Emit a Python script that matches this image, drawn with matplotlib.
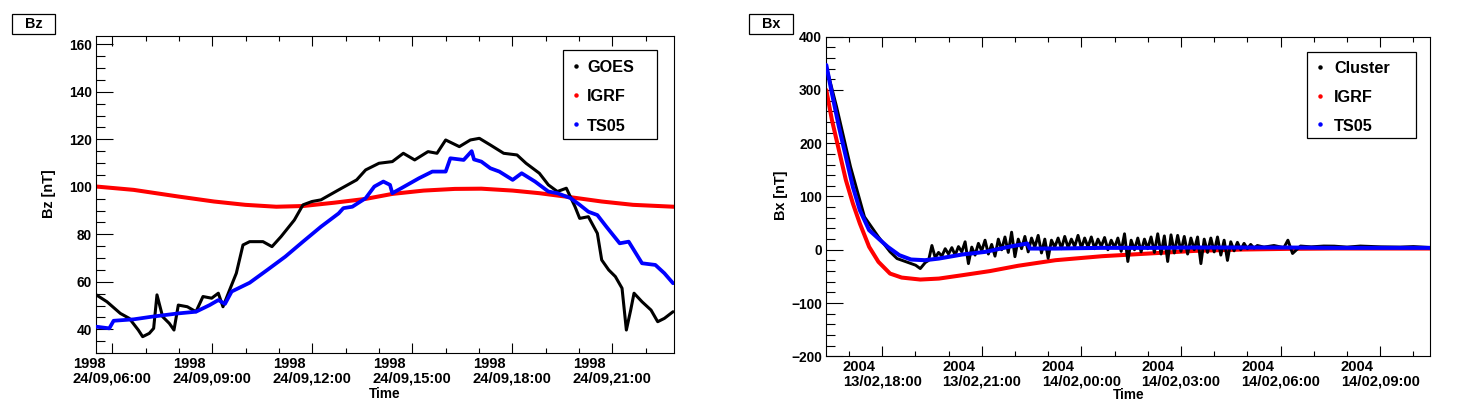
import matplotlib
matplotlib.use('Agg')
import matplotlib.pyplot as plt
from matplotlib.patches import Rectangle
from matplotlib.lines import Line2D
from matplotlib.ticker import MultipleLocator

plt.rcParams['font.family'] = ['Liberation Sans', 'DejaVu Sans']

# ---------------- data: left panel (Bz), time in hours of 24/09/1998 ----------------
bz_goes_t = [5.52, 5.84, 6.24, 6.51, 6.78, 6.91, 7.11, 7.24, 7.34, 7.51, 7.71, 7.85, 7.98,
             8.25, 8.51, 8.72, 8.98, 9.18, 9.32, 9.52, 9.72, 9.92, 10.12, 10.52, 10.79,
             11.06, 11.46, 11.72, 11.99, 12.26, 12.79, 13.33, 13.60, 14.00, 14.40, 14.73,
             15.07, 15.47, 15.74, 16.00, 16.41, 16.74, 17.01, 17.34, 17.74, 18.14, 18.41,
             18.81, 19.08, 19.35, 19.62, 19.88, 20.02, 20.28, 20.55, 20.68, 20.89, 21.09,
             21.29, 21.42, 21.55, 21.65, 21.89, 22.16, 22.36, 22.56, 22.82]
bz_goes_v = [54.5, 51.6, 46.7, 44.6, 39.7, 36.9, 38.3, 40.4, 54.5, 45.3, 42.5, 39.7, 50.2,
             49.5, 47.4, 53.8, 53.1, 55.2, 49.5, 56.6, 63.6, 75.5, 76.9, 76.9, 74.8,
             79.0, 86.0, 92.4, 93.8, 94.5, 98.7, 102.9, 107.1, 109.9, 110.6, 114.1,
             111.3, 114.8, 114.1, 119.7, 116.9, 119.7, 120.4, 117.6, 114.1, 113.4, 109.9,
             105.7, 100.8, 98.0, 99.4, 91.6, 86.7, 87.4, 80.4, 69.2, 65.0, 62.2,
             57.3, 39.7, 48.1, 55.2, 51.6, 48.1, 43.2, 44.6, 47.4]

bz_igrf_t = [5.52, 6.64, 7.98, 9.05, 9.99, 10.92, 11.72, 12.66, 13.60, 14.40, 15.34, 16.27,
             17.07, 18.01, 18.81, 19.75, 20.68, 21.62, 22.84]
bz_igrf_v = [100.1, 98.7, 95.9, 93.8, 92.4, 91.6, 91.9, 93.3, 94.9, 97.0, 98.4, 99.1,
             99.2, 98.4, 97.3, 95.6, 93.8, 92.4, 91.6]

bz_ts05_t = [5.52, 5.91, 6.04, 6.64, 7.18, 7.98, 8.51, 8.92, 9.18, 9.38, 9.58, 10.12, 10.65,
             11.19, 11.72, 12.26, 12.79, 12.93, 13.20, 13.60, 13.86, 14.13, 14.33, 14.40,
             14.67, 15.20, 15.60, 16.00, 16.14, 16.54, 16.78, 16.85, 17.07, 17.34, 17.61,
             18.01, 18.28, 18.68, 19.08, 19.35, 19.75, 20.02, 20.28, 20.55, 20.82, 21.22,
             21.49, 21.89, 22.29, 22.56, 22.82]
bz_ts05_v = [41.1, 40.4, 43.6, 44.2, 45.3, 46.7, 47.4, 50.2, 52.3, 50.7, 55.9, 59.6, 65.0,
             70.6, 76.9, 83.2, 88.8, 91.0, 91.6, 95.2, 100.1, 102.2, 100.8, 97.3,
             99.4, 103.6, 106.4, 106.4, 112.0, 111.3, 115.0, 111.5, 110.6, 107.8, 106.4,
             102.9, 105.7, 102.2, 98.0, 97.3, 95.2, 92.4, 89.5, 88.1, 83.2, 76.2,
             76.9, 67.8, 67.1, 63.6, 59.4]

bz_xticks = [6, 9, 12, 15, 18, 21]
bz_xticklabels = ["1998\n24/09,06:00", "1998\n24/09,09:00", "1998\n24/09,12:00",
                  "1998\n24/09,15:00", "1998\n24/09,18:00", "1998\n24/09,21:00"]

# ---------------- data: right panel (Bx), time in hours since 13/02/2004 00:00 ----------------
bx_cluster_t = [16.32, 16.63, 17.05, 17.47, 17.89, 18.24, 18.45, 18.73, 19.01, 19.15, 19.3,
                19.4, 19.5, 19.6, 19.7, 19.8, 19.9, 20.0, 20.1, 20.2, 20.3,
                20.4, 20.5, 20.6, 20.7, 20.8, 20.9, 21.0, 21.1, 21.2, 21.3,
                21.4, 21.5, 21.6, 21.7, 21.8, 21.9, 22.0, 22.1, 22.2, 22.3,
                22.4, 22.5, 22.6, 22.7, 22.8, 22.9, 23.0, 23.1, 23.2, 23.3,
                23.4, 23.5, 23.6, 23.7, 23.8, 23.9, 24.0, 24.1, 24.2, 24.3,
                24.4, 24.5, 24.6, 24.7, 24.8, 24.9, 25.0, 25.1, 25.2, 25.3,
                25.4, 25.5, 25.6, 25.7, 25.8, 25.9, 26.0, 26.1, 26.2, 26.3,
                26.4, 26.5, 26.6, 26.7, 26.8, 26.9, 27.0, 27.1, 27.2, 27.3,
                27.4, 27.5, 27.6, 27.7, 27.8, 27.9, 28.0, 28.1, 28.2, 28.3,
                28.4, 28.5, 28.6, 28.7, 28.8, 28.9, 29.0, 29.1, 29.2, 29.3,
                29.5, 29.8, 30.1, 30.22, 30.36, 30.6, 30.92, 31.3, 31.62, 32.0,
                32.4, 33.02, 33.6, 34.0, 34.49]
bx_cluster_v = [343.6, 268.5, 155.8, 61.8, 24.2, -3.9, -16.5, -22.7, -29.0, -35.3, -24.0,
                -20.0, 8.0, -15.0, -5.0, -12.0, 2.0, -8.0, 4.0, -10.0, 6.0,
                -4.0, 15.0, -26.0, 5.0, -10.0, 12.0, -2.0, 18.0, -8.0, 10.0,
                -12.0, 20.0, 0.0, 24.0, -5.0, 33.0, -13.0, 20.0, 2.0, 25.0,
                -4.0, 22.0, 5.0, 27.0, -6.0, 20.0, -16.0, 18.0, 5.0, 22.0,
                2.0, 25.0, 4.0, 20.0, 6.0, 27.0, 3.0, 22.0, 5.0, 24.0,
                2.0, 20.0, 6.0, 23.0, 0.0, 18.0, 4.0, 22.0, -3.0, 30.0,
                -22.0, 18.0, 0.0, 22.0, -4.0, 20.0, 2.0, 24.0, -5.0, 30.0,
                -8.0, 26.0, -22.0, 28.0, -6.0, 27.0, -3.0, 25.0, -8.0, 22.0,
                0.0, 24.0, -26.0, 20.0, -5.0, 22.0, -4.0, 24.0, -10.0, 18.0,
                -20.0, 15.0, -2.0, 14.0, 0.0, 12.0, 2.0, 10.0, 3.0, 8.0,
                5.0, 8.0, 4.0, 18.0, -7.0, 7.0, 5.5, 7.0, 6.8, 5.0,
                7.0, 5.5, 5.0, 6.0, 4.2]

bx_igrf_t = [16.32, 16.49, 16.70, 16.91, 17.12, 17.33, 17.61, 17.89, 18.24, 18.59, 19.15,
             19.71, 20.41, 21.25, 22.10, 23.22, 24.62, 26.02, 27.42, 28.82, 30.22, 31.62,
             33.02, 34.49]
bx_igrf_v = [300.0, 243.4, 187.0, 130.7, 86.9, 49.3, 5.5, -22.7, -44.7, -52.2, -55.9,
             -54.1, -47.8, -40.0, -30.0, -19.6, -12.1, -7.1, -2.1, 0.4, 1.7, 2.3,
             2.3, 2.3]

bx_ts05_t = [16.32, 16.49, 16.70, 16.91, 17.12, 17.33, 17.61, 17.89, 18.17, 18.31, 18.52,
             18.87, 19.29, 19.71, 20.41, 21.11, 21.81, 22.37, 22.45, 23.22, 24.62, 26.02,
             27.42, 28.82, 30.22, 31.62, 33.02, 34.49]
bx_ts05_v = [346.8, 293.5, 230.9, 174.5, 118.2, 74.4, 36.8, 21.1, 5.5, -0.8, -10.2,
             -18.3, -19.6, -16.5, -8.9, -3.9, 5.5, 11.8, 2.3, 2.3, 3.6, 3.6,
             4.2, 4.2, 4.2, 3.6, 3.6, 3.6]

bx_xticks = [18, 21, 24, 27, 30, 33]
bx_xticklabels = ["2004\n13/02,18:00", "2004\n13/02,21:00", "2004\n14/02,00:00",
                  "2004\n14/02,03:00", "2004\n14/02,06:00", "2004\n14/02,09:00"]

# ---------------- figure ----------------
W, H = 1459, 417
fig = plt.figure(figsize=(W / 100, H / 100), dpi=100)


def fbox(x0, y0, x1, y1):
    return [x0 / W, 1 - y1 / H, (x1 - x0) / W, (y1 - y0) / H]


axL = fig.add_axes(fbox(96.3, 35.7, 673.7, 353.3))
axR = fig.add_axes(fbox(826.3, 36.7, 1429.7, 356.3))

BLACK, RED, BLUE = '#000000', '#ff0000', '#0000ff'


def draw(ax, t, v, color, lw, z):
    ax.plot(t, v, color=color, lw=lw, solid_capstyle='round',
            solid_joinstyle='round', zorder=z)


draw(axL, bz_igrf_t, bz_igrf_v, RED, 2.9, 2)
draw(axL, bz_goes_t, bz_goes_v, BLACK, 2.2, 3)
draw(axL, bz_ts05_t, bz_ts05_v, BLUE, 2.7, 4)

draw(axR, bx_igrf_t, bx_igrf_v, RED, 2.9, 2)
draw(axR, bx_cluster_t, bx_cluster_v, BLACK, 2.1, 3)
draw(axR, bx_ts05_t, bx_ts05_v, BLUE, 2.9, 4)


def style(ax, xlim, ylim, xticks, xlabels, ymaj, ymin, ylab, ylab_xy, xlab_xy):
    ax.set_xlim(*xlim)
    ax.set_ylim(*ylim)
    ax.set_xticks(xticks)
    ax.set_xticklabels(xlabels, fontsize=10.6, fontweight='bold')
    for lbl in ax.get_xticklabels():
        lbl.set_multialignment('left')
        lbl.set_linespacing(1.0)
    ax.xaxis.set_minor_locator(MultipleLocator(1))
    ax.yaxis.set_major_locator(MultipleLocator(ymaj))
    ax.yaxis.set_minor_locator(MultipleLocator(ymin))
    ax.tick_params(axis='x', which='major', direction='in', length=7.2, width=0.8,
                   top=True, pad=3)
    ax.tick_params(axis='x', which='minor', direction='in', length=3.6, width=0.8, top=True)
    ax.tick_params(axis='y', which='major', direction='in', length=12.2, width=0.8,
                   right=False, pad=3, labelsize=9.9)
    ax.tick_params(axis='y', which='minor', direction='in', length=6.2, width=0.8, right=False)
    for lbl in ax.get_yticklabels():
        lbl.set_fontweight('bold')
    for sp in ax.spines.values():
        sp.set_linewidth(0.8)
    ax.set_ylabel(ylab, fontsize=10.4, fontweight='bold', va='center', ha='center')
    ax.yaxis.set_label_coords(*ylab_xy)
    ax.set_xlabel('Time', fontsize=9.8, fontweight='bold', va='center', ha='center')
    ax.xaxis.set_label_coords(*xlab_xy)


style(axL, (5.52, 22.84), (29.9, 163.6), bz_xticks, bz_xticklabels, 20, 5,
      'Bz [nT]', (-0.0824, 0.5016), (0.5, -0.129))
style(axR, (16.32, 34.49), (-200, 400), bx_xticks, bx_xticklabels, 100, 20,
      'Bx [nT]', (-0.0751, 0.505), (0.501, -0.121))


def title_box(x0, y0, x1, y1, text):
    fig.add_artist(Rectangle((x0 / W, 1 - y1 / H), (x1 - x0) / W, (y1 - y0) / H,
                             transform=fig.transFigure, fill=False, lw=0.9, ec='black'))
    fig.text((x0 + x1) / 2 / W, 1 - (y0 + y1) / 2 / H, text, ha='center', va='center',
             fontsize=10.4, fontweight='bold')


title_box(12.3, 14.0, 55.0, 33.7, 'Bz')
title_box(749.3, 14.0, 793.3, 33.7, 'Bx')


def legend_box(box, mark_x, text_x, rows, labels, colors):
    x0, y0, x1, y1 = box
    fig.add_artist(Rectangle((x0 / W, 1 - y1 / H), (x1 - x0) / W, (y1 - y0) / H,
                             transform=fig.transFigure, fill=True, fc='white',
                             lw=0.9, ec='black', zorder=5))
    for (my, by), lab, col in zip(rows, labels, colors):
        fig.add_artist(Line2D([mark_x / W], [1 - my / H], marker='o', ms=2.2, color=col,
                              mec=col, ls='none', transform=fig.transFigure, zorder=6))
        fig.text(text_x / W, 1 - by / H, lab, ha='left', va='baseline', fontsize=11.7,
                 fontweight='bold', zorder=6)


legend_box((563.3, 50.0, 657.3, 139.0), 575.7, 587.3,
           [(65.7, 71.6), (95.0, 101.0), (124.3, 130.8)],
           ['GOES', 'IGRF', 'TS05'], [BLACK, RED, BLUE])
legend_box((1306.7, 52.3, 1415.7, 138.3), 1320.0, 1334.3,
           [(66.7, 73.0), (95.7, 102.0), (124.3, 130.8)],
           ['Cluster', 'IGRF', 'TS05'], [BLACK, RED, BLUE])

fig.savefig('out.png', dpi=100)
